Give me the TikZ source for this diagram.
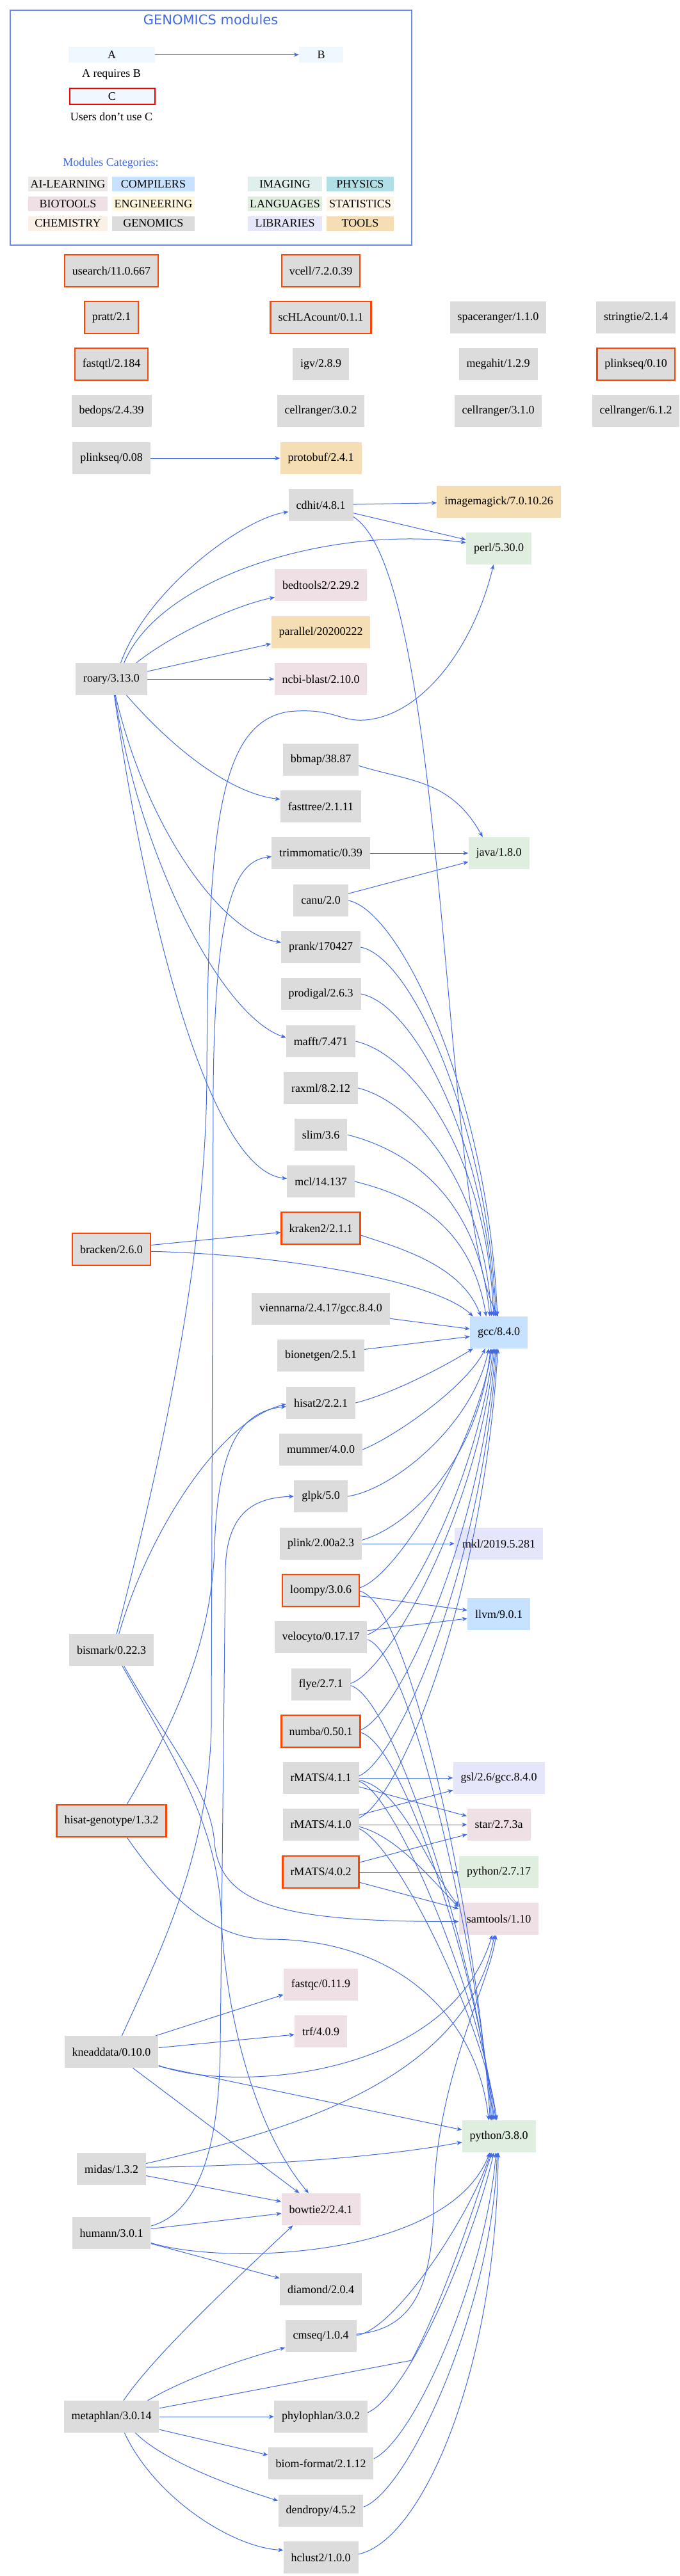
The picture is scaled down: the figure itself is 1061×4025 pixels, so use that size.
\documentclass[tikz,border=0pt]{standalone}
\usepackage{fontspec}
\setmainfont{Liberation Serif}
\newfontfamily\titlefont{DejaVu Sans}
\usetikzlibrary{arrows.meta}
\definecolor{edgeblue}{HTML}{4169E1}
\definecolor{frameblue}{HTML}{6A8AE6}
\definecolor{gen}{HTML}{DCDCDC}
\definecolor{tools}{HTML}{F5DEB3}
\definecolor{lang}{HTML}{E0EEE0}
\definecolor{bio}{HTML}{EEE0E5}
\definecolor{comp}{HTML}{C6E2FF}
\definecolor{libs}{HTML}{E6E6FA}
\definecolor{ailearn}{HTML}{EEE9E9}
\definecolor{eng}{HTML}{FFF8DC}
\definecolor{chem}{HTML}{FAF0E6}
\definecolor{img}{HTML}{E0EEEE}
\definecolor{phys}{HTML}{B0E0E6}
\definecolor{stat}{HTML}{FDF5E6}
\definecolor{orred}{HTML}{FF4500}
\definecolor{alice}{HTML}{F0F8FF}
\newcommand\modfs{\fontsize{18pt}{21pt}\selectfont}
\begin{document}
\begin{tikzpicture}[x=1pt,y=1pt,
  mod/.style={rectangle, minimum height=50pt, inner xsep=12pt, inner ysep=0pt, fill=#1, font=\modfs},
  mod/.default=gen,
  unused/.style={draw=orred, line width=2.5pt},
  leg/.style={rectangle, minimum height=25pt, inner sep=0pt, fill=alice, font=\modfs},
  cell/.style={rectangle, minimum height=23pt, inner sep=0pt, fill=#1, font=\modfs},
  txt/.style={inner sep=0pt, font=\modfs},
  dep/.style={draw=edgeblue, line width=1pt, -{Stealth[length=8pt,width=6.5pt,inset=2.5pt]}}]
\useasboundingbox (0,0) rectangle (1061,-4025);
\fill[white] (0,0) rectangle (1061,-4025);
% ---------- legend ----------
\draw[frameblue, line width=2pt] (16,-16) rectangle (643,-383);
\node[inner sep=0pt, text=edgeblue, font=\titlefont\fontsize{21pt}{24pt}\selectfont] (title) at (329,-31) {GENOMICS modules};
\node[leg, minimum width=135pt] (A) at (174.5,-85.5) {A};
\node[leg, minimum width=69pt] (B) at (501.5,-85.5) {B};
\node[txt] (Alab) at (174,-116) {A requires B};
\node[leg, minimum width=133pt, draw=red, line width=2pt] (C) at (175,-150.5) {C};
\node[txt] (Clab) at (174,-182) {Users don't use C};
\node[txt, text=edgeblue] (cats) at (173,-255) {Modules Categories:};
\node[cell=ailearn, minimum width=124pt] (c1) at (106,-287.5) {AI-LEARNING};
\node[cell=comp, minimum width=129pt] (c2) at (239.5,-287.5) {COMPILERS};
\node[cell=img, minimum width=116pt] (c3) at (445,-287.5) {IMAGING};
\node[cell=phys, minimum width=105pt] (c4) at (562.5,-287.5) {PHYSICS};
\node[cell=bio, minimum width=124pt] (c5) at (106,-318.5) {BIOTOOLS};
\node[cell=eng, minimum width=129pt] (c6) at (239.5,-318.5) {ENGINEERING};
\node[cell=lang, minimum width=116pt] (c7) at (445,-318.5) {LANGUAGES};
\node[cell=stat, minimum width=105pt] (c8) at (562.5,-318.5) {STATISTICS};
\node[cell=chem, minimum width=124pt] (c9) at (106,-349) {CHEMISTRY};
\node[cell=gen, minimum width=129pt] (c10) at (239.5,-349) {GENOMICS};
\node[cell=libs, minimum width=116pt] (c11) at (445,-349) {LIBRARIES};
\node[cell=tools, minimum width=105pt] (c12) at (562.5,-349) {TOOLS};
\draw[dep] (A) -- (B);
% ---------- modules ----------
\node[mod, unused] (usearch) at (174,-423) {usearch/11.0.667};
\node[mod, unused] (vcell) at (501,-423) {vcell/7.2.0.39};
\node[mod, unused] (pratt) at (174,-496) {pratt/2.1};
\node[mod, unused] (schla) at (501,-496) {scHLAcount/0.1.1};
\node[mod] (spaceranger) at (778,-496) {spaceranger/1.1.0};
\node[mod] (stringtie) at (993,-496) {stringtie/2.1.4};
\node[mod, unused] (fastqtl) at (174,-569) {fastqtl/2.184};
\node[mod] (igv) at (501,-569) {igv/2.8.9};
\node[mod] (megahit) at (778,-569) {megahit/1.2.9};
\node[mod, unused] (plinkseqA) at (993,-569) {plinkseq/0.10};
\node[mod] (bedops) at (174,-642) {bedops/2.4.39};
\node[mod] (crA) at (501,-642) {cellranger/3.0.2};
\node[mod] (crB) at (778,-642) {cellranger/3.1.0};
\node[mod] (crC) at (993,-642) {cellranger/6.1.2};
\node[mod] (plinkseqB) at (174,-716) {plinkseq/0.08};
\node[mod=tools] (protobuf) at (501,-716) {protobuf/2.4.1};
\node[mod] (cdhit) at (501,-789) {cdhit/4.8.1};
\node[mod=tools] (imagemagick) at (779,-784) {imagemagick/7.0.10.26};
\node[mod=lang] (perl) at (779,-857) {perl/5.30.0};
\node[mod=bio] (bedtools) at (501,-914) {bedtools2/2.29.2};
\node[mod=tools] (parallel) at (501,-988) {parallel/20200222};
\node[mod] (roary) at (174,-1061) {roary/3.13.0};
\node[mod=bio] (blast) at (501,-1061) {ncbi-blast/2.10.0};
\node[mod] (bbmap) at (501,-1187) {bbmap/38.87};
\node[mod] (fasttree) at (501,-1260) {fasttree/2.1.11};
\node[mod] (trimmomatic) at (501,-1333) {trimmomatic/0.39};
\node[mod=lang] (java) at (779,-1333) {java/1.8.0};
\node[mod] (canu) at (501,-1407) {canu/2.0};
\node[mod] (prank) at (501,-1480) {prank/170427};
\node[mod] (prodigal) at (501,-1553) {prodigal/2.6.3};
\node[mod] (mafft) at (501,-1627) {mafft/7.471};
\node[mod] (raxml) at (501,-1700) {raxml/8.2.12};
\node[mod] (slim) at (501,-1773) {slim/3.6};
\node[mod] (mcl) at (501,-1846) {mcl/14.137};
\node[mod, unused] (kraken) at (501,-1919) {kraken2/2.1.1};
\node[mod, unused] (bracken) at (174,-1952) {bracken/2.6.0};
\node[mod] (vienna) at (501,-2045) {viennarna/2.4.17/gcc.8.4.0};
\node[mod=comp] (gcc) at (779,-2082) {gcc/8.4.0};
\node[mod] (bionetgen) at (501,-2118) {bionetgen/2.5.1};
\node[mod] (hisat) at (501,-2192) {hisat2/2.2.1};
\node[mod] (mummer) at (501,-2265) {mummer/4.0.0};
\node[mod] (glpk) at (501,-2338) {glpk/5.0};
\node[mod] (plink) at (501,-2412) {plink/2.00a2.3};
\node[mod=libs] (mkl) at (779,-2412) {mkl/2019.5.281};
\node[mod, unused] (loompy) at (501,-2485) {loompy/3.0.6};
\node[mod=comp] (llvm) at (779,-2522) {llvm/9.0.1};
\node[mod] (velocyto) at (501,-2558) {velocyto/0.17.17};
\node[mod] (bismark) at (174,-2578) {bismark/0.22.3};
\node[mod] (flye) at (501,-2632) {flye/2.7.1};
\node[mod, unused] (numba) at (501,-2705) {numba/0.50.1};
\node[mod] (rmA) at (501,-2778) {rMATS/4.1.1};
\node[mod=libs] (gsl) at (779,-2778) {gsl/2.6/gcc.8.4.0};
\node[mod, unused] (hgt) at (174,-2845) {hisat-genotype/1.3.2};
\node[mod] (rmB) at (501,-2851) {rMATS/4.1.0};
\node[mod=bio] (star) at (779,-2851) {star/2.7.3a};
\node[mod, unused] (rmC) at (501,-2925) {rMATS/4.0.2};
\node[mod=lang] (pyA) at (779,-2925) {python/2.7.17};
\node[mod=bio] (samtools) at (779,-2998) {samtools/1.10};
\node[mod=bio] (fastqc) at (501,-3101) {fastqc/0.11.9};
\node[mod=bio] (trf) at (501,-3174) {trf/4.0.9};
\node[mod] (knead) at (174,-3206) {kneaddata/0.10.0};
\node[mod=lang] (pyB) at (779,-3338) {python/3.8.0};
\node[mod] (midas) at (174,-3389) {midas/1.3.2};
\node[mod=bio] (bowtie) at (501,-3452) {bowtie2/2.4.1};
\node[mod] (humann) at (174,-3489) {humann/3.0.1};
\node[mod] (diamond) at (501,-3577) {diamond/2.0.4};
\node[mod] (cmseq) at (501,-3650) {cmseq/1.0.4};
\node[mod] (metaphlan) at (174,-3776) {metaphlan/3.0.14};
\node[mod] (phylophlan) at (501,-3776) {phylophlan/3.0.2};
\node[mod] (biom) at (501,-3849) {biom-format/2.1.12};
\node[mod] (dendropy) at (501,-3923) {dendropy/4.5.2};
\node[mod] (hclust) at (501,-3996) {hclust2/1.0.0};
% ---------- dependencies ----------
\draw[dep] (plinkseqB) -- (protobuf);
\draw[dep] (cdhit) -- (imagemagick);
\draw[dep] (cdhit.-14) -- (perl.165);
\draw[dep] (cdhit.-20) .. controls (700,-900) and (690,-1900) .. (gcc.92);
\draw[dep] (roary.60) .. controls (230,-920) and (380,-810) .. (cdhit.192);
\draw[dep] (roary.52) .. controls (250,-900) and (520,-820) .. (perl.170);
\draw[dep] (roary.33) .. controls (270,-990) and (370,-945) .. (bedtools.195);
\draw[dep] (roary.12) -- (parallel.193);
\draw[dep] (roary) -- (blast);
\draw[dep] (roary.-47) .. controls (270,-1170) and (360,-1240) .. (fasttree.170);
\draw[dep] (roary.-76) .. controls (230,-1300) and (350,-1460) .. (prank.173);
\draw[dep] (roary.-78) .. controls (220,-1350) and (350,-1590) .. (mafft.174);
\draw[dep] (roary.-80) .. controls (230,-1450) and (330,-1830) .. (mcl.175);
\draw[dep] (bbmap.-9) .. controls +(80,-25) and +(-50,90) .. (java.135);
\draw[dep] (trimmomatic) -- (java);
\draw[dep] (canu.14) -- (java.196);
\draw[dep] (canu.east) .. controls +(80,-15) and +(-15,350) .. (gcc.95);
\draw[dep] (prank.east) .. controls +(80,-15) and +(-15,300) .. (gcc.99);
\draw[dep] (prodigal.east) .. controls +(80,-15) and +(-15,280) .. (gcc.103);
\draw[dep] (mafft.east) .. controls +(90,-20) and +(-10,250) .. (gcc.108);
\draw[dep] (raxml.east) .. controls +(80,-20) and +(-15,220) .. (gcc.114);
\draw[dep] (slim.east) .. controls +(80,-20) and +(-20,200) .. (gcc.119);
\draw[dep] (mcl.east) .. controls +(80,-20) and +(-25,150) .. (gcc.128);
\draw[dep] (kraken.-10) .. controls +(60,-20) and +(-30,80) .. (gcc.138);
\draw[dep] (bracken.6) -- (kraken.186);
\draw[dep] (bracken.-3) .. controls (435,-1960) and (680,-2000) .. (gcc.148);
\draw[dep] (vienna.-8) -- (gcc.173);
\draw[dep] (bionetgen.8) -- (gcc.-172);
\draw[dep] (hisat.east) .. controls +(60,15) and +(-40,-25) .. (gcc.-148);
\draw[dep] (mummer.east) .. controls +(50,20) and +(-30,-60) .. (gcc.-130);
\draw[dep] (glpk.east) .. controls +(70,10) and +(-25,-120) .. (gcc.-122);
\draw[dep] (plink.5) .. controls +(70,20) and +(-20,-180) .. (gcc.-117);
\draw[dep] (plink) -- (mkl);
\draw[dep] (loompy.4) .. controls +(60,20) and +(-25,-150) .. (gcc.-113);
\draw[dep] (loompy.-8) -- (llvm.173);
\draw[dep] (loompy.-1) .. controls +(80,-20) and +(-20,300) .. (pyB.118);
\draw[dep] (velocyto.8) -- (llvm.188);
\draw[dep] (velocyto.3) .. controls +(60,20) and +(-25,-200) .. (gcc.-109);
\draw[dep] (velocyto.-3) .. controls +(70,-20) and +(-20,250) .. (pyB.114);
\draw[dep] (flye.2) .. controls +(60,20) and +(-25,-250) .. (gcc.-105);
\draw[dep] (flye.-2) .. controls +(70,-20) and +(-20,230) .. (pyB.110);
\draw[dep] (numba.2) .. controls +(60,25) and +(-25,-300) .. (gcc.-101);
\draw[dep] (numba.-2) .. controls +(70,-20) and +(-20,200) .. (pyB.106);
\draw[dep] (rmA.3) .. controls +(60,25) and +(-25,-350) .. (gcc.-97);
\draw[dep] (rmA) -- (gsl);
\draw[dep] (rmA.-13) -- (star.165);
\draw[dep] (rmA.-3) .. controls +(70,-15) and +(-50,60) .. (samtools.162);
\draw[dep] (rmA.-5) .. controls +(60,-20) and +(-20,180) .. (pyB.101);
\draw[dep] (rmB.10) .. controls +(60,25) and +(-25,-400) .. (gcc.-93);
\draw[dep] (rmB.14) -- (gsl.195);
\draw[dep] (rmB) -- (star);
\draw[dep] (rmB.-3) .. controls +(60,-15) and +(-40,40) .. (samtools.164);
\draw[dep] (rmB.-6) .. controls +(60,-25) and +(-20,150) .. (pyB.97);
\draw[dep] (rmC.14) -- (star.197);
\draw[dep] (rmC) -- (pyA);
\draw[dep] (rmC.-15) -- (samtools.166);
\draw[dep] (bismark.72) .. controls (260,-2250) and (322,-1950) .. (323,-1680) .. controls (325,-1300) and (340,-1130) .. (450,-1112) .. controls (520,-1105) and (530,-1128) .. (570,-1125) .. controls (660,-1118) and (740,-1010) .. (perl.-108);
\draw[dep] (bismark.65) .. controls (230,-2400) and (340,-2220) .. (hisat.182);
\draw[dep] (bismark.-52) .. controls (260,-2720) and (330,-2800) .. (335,-2880) .. controls (345,-2980) and (450,-3003) .. (samtools.184);
\draw[dep] (bismark.-56) .. controls (280,-2760) and (335,-2850) .. (345,-2980) .. controls (350,-3150) and (400,-3330) .. (bowtie.127);
\draw[dep] (hgt.47) .. controls (280,-2680) and (330,-2560) .. (335,-2420) .. controls (340,-2250) and (380,-2205) .. (hisat.186);
\draw[dep] (hgt.-47) .. controls (260,-2960) and (330,-3030) .. (420,-3030) .. controls (620,-3030) and (745,-3150) .. (pyB.122);
\draw[dep] (knead.57) .. controls (250,-3050) and (325,-2900) .. (330,-2700) -- (333,-1700) .. controls (336,-1400) and (370,-1345) .. (trimmomatic.184);
\draw[dep] (knead.20) -- (fastqc.195);
\draw[dep] (knead.5) -- (trf.187);
\draw[dep] (knead.-16) .. controls (360,-3270) and (700,-3250) .. (samtools.-112);
\draw[dep] (knead.-17) -- (pyB.170);
\draw[dep] (knead.-37) -- (bowtie.143);
\draw[dep] (midas.9) .. controls (450,-3330) and (730,-3250) .. (samtools.-105);
\draw[dep] (midas.3) .. controls (400,-3385) and (600,-3370) .. (pyB.189);
\draw[dep] (midas.-11) -- (bowtie.169);
\draw[dep] (humann.10) .. controls (300,-3460) and (342,-3380) .. (344,-3200) -- (352,-2450) .. controls (355,-2360) and (400,-2340) .. (glpk.west);
\draw[dep] (humann.6) -- (bowtie.186);
\draw[dep] (humann.-14) .. controls (350,-3540) and (700,-3530) .. (pyB.-119);
\draw[dep] (humann.-15) -- (diamond.165);
\draw[dep] (metaphlan.53) .. controls (240,-3680) and (380,-3550) .. (bowtie.-150);
\draw[dep] (metaphlan.24) .. controls (300,-3710) and (400,-3680) .. (cmseq.198);
\draw[dep] (metaphlan.10) -- (643,-3688) .. controls (690,-3600) and (740,-3450) .. (pyB.-113);
\draw[dep] (metaphlan) -- (phylophlan);
\draw[dep] (metaphlan.-15) -- (biom.171);
\draw[dep] (metaphlan.-34) .. controls (260,-3850) and (380,-3890) .. (dendropy.167);
\draw[dep] (metaphlan.-51) .. controls (240,-3900) and (360,-3980) .. (hclust.169);
\draw[dep] (cmseq.3) .. controls (640,-3640) and (675,-3580) .. (677,-3450) .. controls (678,-3250) and (765,-3100) .. (samtools.-100);
\draw[dep] (cmseq.1) .. controls (620,-3640) and (740,-3450) .. (pyB.-117);
\draw[dep] (phylophlan.5) .. controls (640,-3740) and (740,-3500) .. (pyB.-107);
\draw[dep] (biom.5) .. controls (650,-3810) and (760,-3550) .. (pyB.-100);
\draw[dep] (dendropy.5) .. controls (640,-3890) and (770,-3600) .. (pyB.-96);
\draw[dep] (hclust.5) .. controls (660,-3970) and (775,-3700) .. (pyB.-92);
\end{tikzpicture}
\end{document}
